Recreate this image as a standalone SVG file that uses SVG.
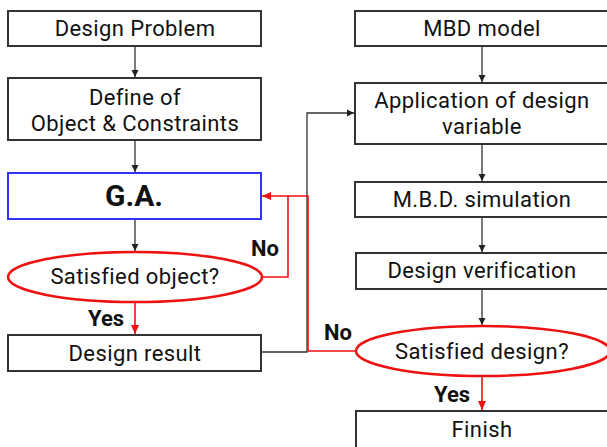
<svg xmlns="http://www.w3.org/2000/svg" width="607" height="447" viewBox="0 0 607 447">
<style>
  .box{fill:#fff;stroke:#333;stroke-width:2}
  .ga{fill:#fff;stroke:#3333ff;stroke-width:2}
  .dec{fill:#fff;stroke:#ee1111;stroke-width:2.5}
  .t{font-family:Roboto,"Noto Sans",sans-serif;font-size:22px;letter-spacing:0.4px;fill:#111;text-anchor:middle}
  .b{font-family:Roboto,"Noto Sans",sans-serif;font-weight:bold;fill:#111}
  .k{fill:none;stroke:#333;stroke-width:1.3}
  .r{fill:none;stroke:#ee1111;stroke-width:1.6}
</style>
<defs>
  <marker id="ak" markerWidth="8" markerHeight="8" refX="7" refY="4" orient="auto" markerUnits="userSpaceOnUse">
    <path d="M0,0.5 L7,4 L0,7.5 Z" fill="#222"/>
  </marker>
  <marker id="ar" markerWidth="10" markerHeight="10" refX="9" refY="5" orient="auto" markerUnits="userSpaceOnUse">
    <path d="M0,1 L9,5 L0,9 Z" fill="#ee1111"/>
  </marker>
</defs>
<rect width="607" height="447" fill="#fff"/>

<g id="connectors">
  <line class="k" x1="135" y1="46" x2="135" y2="77" marker-end="url(#ak)"/>
  <line class="k" x1="135" y1="140" x2="135" y2="172" marker-end="url(#ak)"/>
  <line class="k" x1="135" y1="219" x2="135" y2="251" marker-end="url(#ak)"/>
  <line class="k" x1="482" y1="46" x2="482" y2="82" marker-end="url(#ak)"/>
  <line class="k" x1="482" y1="144" x2="482" y2="181" marker-end="url(#ak)"/>
  <line class="k" x1="482" y1="217" x2="482" y2="252" marker-end="url(#ak)"/>
  <line class="k" x1="482" y1="289" x2="482" y2="325" marker-end="url(#ak)"/>
  <polyline class="k" points="261,352 307,352 307,113 354,113" marker-end="url(#ak)"/>
  <line class="r" x1="135" y1="302" x2="135" y2="334" stroke-width="1.2" marker-end="url(#ar)"/>
  <line class="r" x1="482" y1="377" x2="482" y2="410" stroke-width="1.2" marker-end="url(#ar)"/>
  <polyline class="r" points="263,277 288,277 288,196 262,196" marker-end="url(#ar)"/>
  <polyline class="r" points="356,351 308,351 308,196 288,196"/>
</g>

<g id="design-problem">
  <rect class="box" x="8" y="11" width="253" height="35"/>
  <text class="t" x="135" y="36">Design Problem</text>
</g>
<g id="define-object">
  <rect class="box" x="8" y="78" width="253" height="62"/>
  <text class="t" x="135" y="105">Define of</text>
  <text class="t" x="135" y="130.5">Object &amp; Constraints</text>
</g>
<g id="ga">
  <rect class="ga" x="8" y="173" width="253" height="46"/>
  <text class="b" x="134" y="206" font-size="30" text-anchor="middle">G.A.</text>
</g>
<g id="satisfied-object">
  <ellipse class="dec" cx="135" cy="277" rx="127" ry="25"/>
  <text class="t" x="135" y="284">Satisfied object?</text>
</g>
<g id="design-result">
  <rect class="box" x="8" y="335" width="253" height="36"/>
  <text class="t" x="135" y="361">Design result</text>
</g>
<g id="mbd-model">
  <rect class="box" x="355" y="11" width="260" height="35"/>
  <text class="t" x="482" y="36">MBD model</text>
</g>
<g id="application">
  <rect class="box" x="355" y="83" width="260" height="61"/>
  <text class="t" x="482" y="108">Application of design</text>
  <text class="t" x="482" y="133.5">variable</text>
</g>
<g id="mbd-simulation">
  <rect class="box" x="355" y="182" width="260" height="35"/>
  <text class="t" x="482" y="207">M.B.D. simulation</text>
</g>
<g id="design-verification">
  <rect class="box" x="356" y="253" width="260" height="36"/>
  <text class="t" x="482" y="278">Design verification</text>
</g>
<g id="satisfied-design">
  <ellipse class="dec" cx="483" cy="351" rx="127" ry="25"/>
  <text class="t" x="482" y="359">Satisfied design?</text>
</g>
<g id="finish">
  <rect class="box" x="356" y="411" width="260" height="40"/>
  <text class="t" x="482" y="437">Finish</text>
</g>

<g id="labels">
  <text class="b" x="251" y="256" font-size="22">No</text>
  <text class="b" x="324" y="340" font-size="22">No</text>
  <text class="b" x="88" y="326" font-size="22">Yes</text>
  <text class="b" x="434" y="402" font-size="22">Yes</text>
</g>
</svg>
